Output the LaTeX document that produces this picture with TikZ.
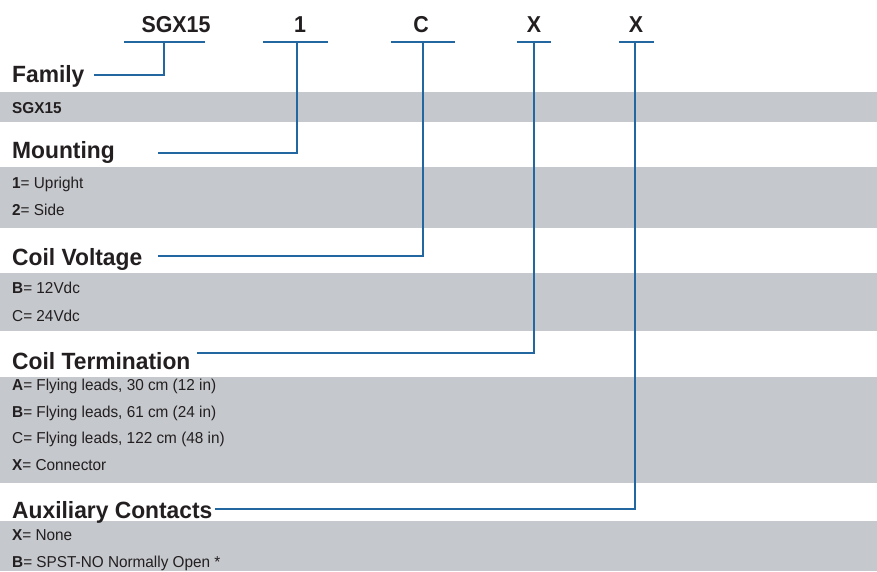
\documentclass[tikz,border=0pt]{standalone}
\usepackage{fontspec}
\setmainfont{Liberation Sans}
\newfontfamily\hdfont[FakeStretch=0.93]{Liberation Sans}
\newfontfamily\itfont[FakeStretch=0.97]{Liberation Sans}
\definecolor{lineblue}{HTML}{2367A0}
\definecolor{bandgray}{HTML}{C5C8CC}
\definecolor{txt}{HTML}{231F20}
\begin{document}
\begin{tikzpicture}[x=1pt,y=-1pt,
  band/.style={fill=bandgray,draw=none},
  conn/.style={draw=lineblue,line width=2.2pt},
  code/.style={anchor=base,inner sep=0pt,text=txt,font=\hdfont\bfseries\fontsize{23}{26}\selectfont},
  heading/.style={anchor=base west,inner sep=0pt,text=txt,font=\itfont\bfseries\fontsize{23.5}{26}\selectfont},
  item/.style={anchor=base west,inner sep=0pt,text=txt,font=\itfont\fontsize{15.8}{18}\selectfont}]
\useasboundingbox (0,0) rectangle (877,571);
% bands
\fill[band] (0,92) rectangle (877,122);
\fill[band] (0,167) rectangle (877,228);
\fill[band] (0,273) rectangle (877,331);
\fill[band] (0,377) rectangle (877,483);
\fill[band] (0,521) rectangle (877,571);
% code letters
\node[code] (cSGX) at (176,32) {SGX15};
\node[code] (c1) at (300,32) {1};
\node[code] (cC) at (421,32) {C};
\node[code] (cX1) at (534,32) {X};
\node[code] (cX2) at (636,32) {X};
% underline coordinates
\coordinate (uSGXa) at (124,42); \coordinate (uSGXb) at (205,42); \coordinate (uSGX) at (164,42);
\coordinate (u1a) at (263,42); \coordinate (u1b) at (328,42); \coordinate (u1) at (297,42);
\coordinate (uCa) at (391,42); \coordinate (uCb) at (455,42); \coordinate (uC) at (423,42);
\coordinate (uX1a) at (517,42); \coordinate (uX1b) at (551,42); \coordinate (uX1) at (534,42);
\coordinate (uX2a) at (619,42); \coordinate (uX2b) at (654,42); \coordinate (uX2) at (635,42);
\draw[conn] (uSGXa) -- (uSGXb);
\draw[conn] (u1a) -- (u1b);
\draw[conn] (uCa) -- (uCb);
\draw[conn] (uX1a) -- (uX1b);
\draw[conn] (uX2a) -- (uX2b);
% headings
\node[heading] (hFam) at (12,82) {Family};
\node[heading] (hMnt) at (12,158) {Mounting};
\node[heading] (hCV) at (12,265) {Coil Voltage};
\node[heading] (hCT) at (12,369) {Coil Termination};
\node[heading] (hAux) at (12,518) {Auxiliary Contacts};
% connector start points
\coordinate (sFam) at (94,75);
\coordinate (sMnt) at (158,153);
\coordinate (sCV) at (158,256);
\coordinate (sCT) at (197,353);
\coordinate (sAux) at (215,509);
\draw[conn] (sFam) -| (uSGX);
\draw[conn] (sMnt) -| (u1);
\draw[conn] (sCV) -| (uC);
\draw[conn] (sCT) -| (uX1);
\draw[conn] (sAux) -| (uX2);
% items
\node[item] (iSGX) at (12,113) {\textbf{SGX15}};
\node[item] (iM1) at (12,188) {\textbf{1}= Upright};
\node[item] (iM2) at (12,215) {\textbf{2}= Side};
\node[item] (iV1) at (12,293) {\textbf{B}= 12Vdc};
\node[item] (iV2) at (12,321) {C= 24Vdc};
\node[item] (iT1) at (12,390) {\textbf{A}= Flying leads, 30 cm (12 in)};
\node[item] (iT2) at (12,417) {\textbf{B}= Flying leads, 61 cm (24 in)};
\node[item] (iT3) at (12,443) {C= Flying leads, 122 cm (48 in)};
\node[item] (iT4) at (12,470) {\textbf{X}= Connector};
\node[item] (iA1) at (12,540) {\textbf{X}= None};
\node[item] (iA2) at (12,567) {\textbf{B}= SPST-NO Normally Open *};
\end{tikzpicture}
\end{document}
